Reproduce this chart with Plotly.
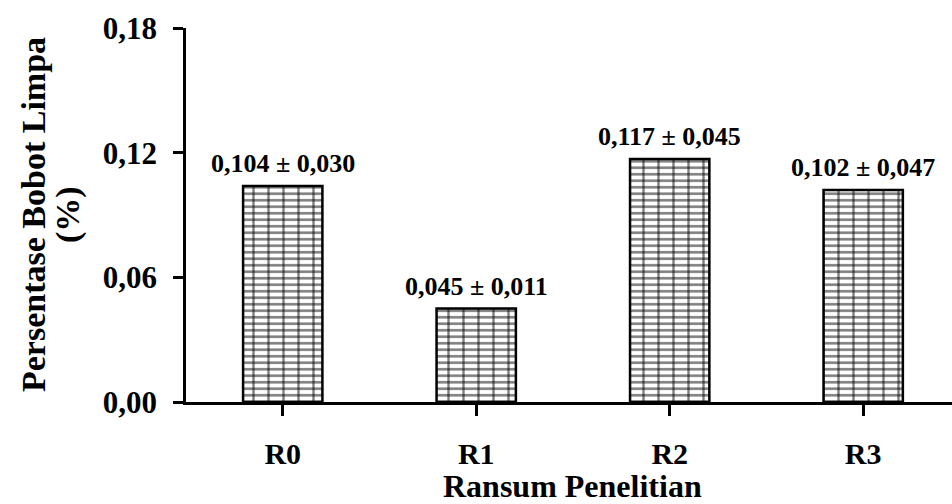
import plotly.graph_objects as go

categories = ["R0", "R1", "R2", "R3"]
means = [0.104, 0.045, 0.117, 0.102]
sds = [0.030, 0.011, 0.045, 0.047]
y_ticks = [0.00, 0.06, 0.12, 0.18]

FONT = "Liberation Serif, Times New Roman, serif"


def fmt(v):
    return f"{v:.3f}".replace(".", ",")


labels = [f"{fmt(m)} ± {fmt(s)}" for m, s in zip(means, sds)]
xpos = list(range(len(categories)))

fig = go.Figure()
# horizontal mortar lines
fig.add_trace(go.Bar(
    x=xpos, y=means,
    marker=dict(color="white",
                line=dict(color="black", width=0),
                pattern=dict(shape="-", size=6.5, solidity=0.4,
                             fgcolor="black", bgcolor="white", fillmode="overlay")),
    width=0.41, hoverinfo="skip", showlegend=False,
))
# vertical mortar lines + outline
fig.add_trace(go.Bar(
    x=xpos, y=means,
    marker=dict(color="rgba(0,0,0,0)",
                line=dict(color="black", width=2.5),
                pattern=dict(shape="|", size=15, solidity=0.16,
                             fgcolor="black", bgcolor="rgba(0,0,0,0)", fillmode="overlay")),
    width=0.41, showlegend=False,
))

annotations = []
for i, (m, lab) in enumerate(zip(means, labels)):
    annotations.append(dict(x=i, y=m, xref="x", yref="y", text=lab, showarrow=False,
                            yanchor="bottom", yshift=6,
                            font=dict(family=FONT, size=26, color="black", weight="bold")))

# axis titles
annotations.append(dict(x=1.5, y=0, xref="x", yref="paper", text="Ransum Penelitian",
                        showarrow=False, yanchor="middle", yshift=-84,
                        font=dict(family=FONT, size=32, color="black", weight="bold")))
annotations.append(dict(x=0, y=0.5, xref="paper", yref="paper", text="Persentase Bobot Limpa",
                        showarrow=False, textangle=-90, xanchor="center", yanchor="middle",
                        xshift=-186 + 33,
                        font=dict(family=FONT, size=34, color="black", weight="bold")))
annotations.append(dict(x=0, y=0.5, xref="paper", yref="paper", text="(%)",
                        showarrow=False, textangle=-90, xanchor="center", yanchor="middle",
                        xshift=-186 + 68,
                        font=dict(family=FONT, size=34, color="black", weight="bold")))

fig.update_layout(
    width=952, height=504,
    margin=dict(l=186, r=0, t=28, b=102),
    paper_bgcolor="white", plot_bgcolor="white",
    barmode="overlay",
    separators=",.",
    font=dict(family=FONT, size=30, color="black", weight="bold"),
    annotations=annotations,
    xaxis=dict(
        range=[-0.5, 3.459], tickmode="array", tickvals=xpos, ticktext=categories,
        tickson="boundaries", ticks="outside", ticklen=11, tickwidth=2.5, tickcolor="black",
        showline=True, linecolor="black", linewidth=2.5, showgrid=False, zeroline=False,
        ticklabelstandoff=12,
        tickfont=dict(family=FONT, size=30, color="black", weight="bold"),
    ),
    yaxis=dict(
        range=[0, 0.18], tickmode="array", tickvals=y_ticks, tickformat=".2f",
        ticks="outside", ticklen=10, tickwidth=2.5, tickcolor="black",
        showline=True, linecolor="black", linewidth=2.5, showgrid=False, zeroline=False,
        ticklabelstandoff=10,
        tickfont=dict(family=FONT, size=31, color="black", weight="bold"),
    ),
)

fig.write_html("out.html")
